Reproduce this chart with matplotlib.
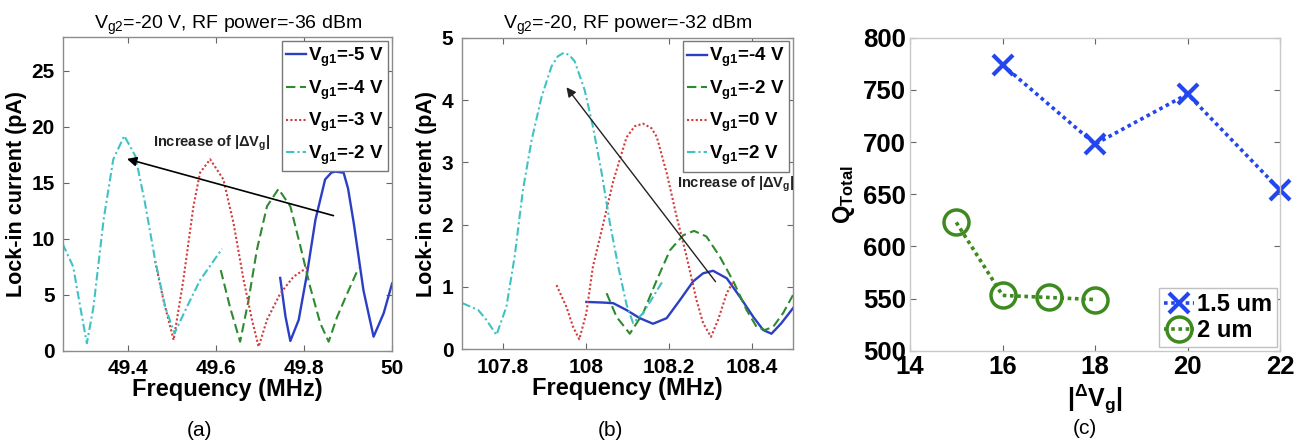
import numpy as np
import matplotlib
matplotlib.use("Agg")
import matplotlib.pyplot as plt

plt.rcParams["font.family"] = ["Liberation Sans", "DejaVu Sans"]
plt.rcParams["mathtext.default"] = "regular"

# ---------------- data: panel (a), Vg2=-20 V, RF -36 dBm ----------------
a_freq_m5 = [49.746, 49.758, 49.769, 49.788, 49.807, 49.826, 49.848, 49.862, 49.871,
             49.89, 49.9, 49.913, 49.935, 49.958, 49.981, 50.0]
a_cur_m5 = [6.5, 3.05, 0.87, 2.75, 6.9, 11.7, 15.3, 15.9, 16.0,
            15.9, 14.5, 11.4, 5.4, 1.25, 3.35, 6.0]

a_freq_m4 = [49.611, 49.632, 49.655, 49.674, 49.693, 49.716, 49.742, 49.769, 49.792,
             49.814, 49.837, 49.856, 49.875, 49.898, 49.924]
a_cur_m4 = [7.2, 3.9, 0.8, 4.5, 9.0, 12.9, 14.45, 12.9, 9.3,
            5.7, 2.45, 0.8, 3.0, 5.1, 7.4]

a_freq_m3 = [49.462, 49.481, 49.504, 49.526, 49.549, 49.564, 49.587, 49.617, 49.64,
             49.663, 49.682, 49.697, 49.716, 49.746, 49.776, 49.81]
a_cur_m3 = [8.0, 4.5, 0.96, 6.3, 12.9, 15.9, 17.1, 15.3, 11.4,
            6.3, 2.75, 0.36, 2.75, 5.1, 6.6, 7.5]

a_freq_m2 = [49.252, 49.276, 49.292, 49.307, 49.322, 49.345, 49.367, 49.392, 49.417,
             49.439, 49.462, 49.485, 49.506, 49.534, 49.564, 49.614]
a_cur_m2 = [9.55, 7.5, 3.9, 0.66, 3.9, 11.7, 17.1, 19.2, 17.4,
            13.2, 8.1, 3.9, 1.55, 3.9, 6.3, 9.1]

a_labels = [r"V$_{g1}$=-5 V", r"V$_{g1}$=-4 V", r"V$_{g1}$=-3 V", r"V$_{g1}$=-2 V"]

# ---------------- data: panel (b), Vg2=-20, RF -32 dBm ----------------
b_freq_m4 = [108.001, 108.042, 108.066, 108.098, 108.13, 108.162, 108.195, 108.227, 108.259,
             108.283, 108.307, 108.34, 108.372, 108.404, 108.428, 108.448, 108.472, 108.5]
b_cur_m4 = [0.76, 0.75, 0.74, 0.63, 0.5, 0.41, 0.5, 0.79, 1.09,
            1.22, 1.26, 1.14, 0.84, 0.52, 0.31, 0.25, 0.42, 0.66]

b_freq_m2 = [108.05, 108.074, 108.106, 108.138, 108.171, 108.203, 108.235, 108.261, 108.291,
             108.323, 108.356, 108.388, 108.412, 108.432, 108.452, 108.476, 108.5]
b_cur_m2 = [0.9, 0.52, 0.25, 0.58, 1.11, 1.59, 1.83, 1.9, 1.81,
            1.49, 1.09, 0.63, 0.36, 0.31, 0.36, 0.58, 0.87]

b_freq_0 = [107.929, 107.953, 107.969, 107.984, 108.001, 108.017, 108.042, 108.066, 108.098,
            108.118, 108.138, 108.158, 108.171, 108.195, 108.219, 108.243, 108.267, 108.283,
            108.302, 108.319, 108.34, 108.356]
b_cur_0 = [1.03, 0.68, 0.36, 0.16, 0.58, 1.33, 2.02, 2.7, 3.4,
           3.58, 3.62, 3.55, 3.41, 2.83, 2.13, 1.49, 0.79, 0.42,
           0.2, 0.47, 0.9, 1.09]

b_freq_p2 = [107.702, 107.74, 107.76, 107.784, 107.808, 107.828, 107.848, 107.869, 107.893,
             107.917, 107.932, 107.947, 107.96, 107.973, 107.997, 108.017, 108.038, 108.058,
             108.078, 108.098, 108.114, 108.138, 108.162, 108.185]
b_cur_p2 = [0.74, 0.63, 0.47, 0.23, 0.68, 1.49, 2.56, 3.36, 4.05,
            4.54, 4.7, 4.76, 4.72, 4.62, 4.16, 3.57, 2.83, 2.02,
            1.33, 0.72, 0.42, 0.58, 0.84, 1.09]

b_labels = [r"V$_{g1}$=-4 V", r"V$_{g1}$=-2 V", r"V$_{g1}$=0 V", r"V$_{g1}$=2 V"]

# ---------------- data: panel (c), Q_total vs |dVg| ----------------
dvg_15um = [16, 18, 20, 22]
q_15um = [774, 698, 746, 654]
dvg_2um = [15, 16, 17, 18]
q_2um = [623, 553, 551, 549]

# ---------------- styles ----------------
C_BLUE = "#2a3fc4"
C_GREEN = "#2e8a2e"
C_RED = "#d43a3a"
C_CYAN = "#3fc2c4"
LS = ["-", (0, (4.5, 2.2)), (0, (1, 1.1)), (0, (4, 1.5, 1, 1.5))]
COLORS = [C_BLUE, C_GREEN, C_RED, C_CYAN]
FRAME = "#8c8c8c"

fig = plt.figure(figsize=(13.03, 4.43), dpi=100)


def style_axes(ax, size=15, frame=FRAME):
    for sp in ax.spines.values():
        sp.set_color(frame)
        sp.set_linewidth(1.0)
    ax.tick_params(direction="in", length=4, width=0.8, color="#666666",
                   top=True, right=True, labelsize=size, pad=6)
    for lab in ax.get_xticklabels() + ax.get_yticklabels():
        lab.set_fontweight("bold")


def curve_panel(ax, series, labels, xlim, ylim, xticks, yticks, title):
    for (fx, cy), lab, col, ls in zip(series, labels, COLORS, LS):
        lw = 1.7 if ls == "-" else 1.5
        ax.plot(fx, cy, color=col, linestyle=ls, lw=lw, label=lab)
    ax.set_xlim(*xlim)
    ax.set_ylim(*ylim)
    ax.set_xticks(xticks)
    ax.set_yticks(yticks)
    ax.set_xlabel("Frequency (MHz)", fontsize=17, fontweight="bold", labelpad=0)
    ax.set_ylabel("Lock-in current (pA)", fontsize=15.5, fontweight="bold", labelpad=3)
    ax.set_title(title, fontsize=14, pad=6)
    style_axes(ax)
    leg = ax.legend(loc="upper right", handlelength=1.05, handletextpad=0.1,
                    borderpad=0.25, labelspacing=0.5, fancybox=False, framealpha=1,
                    borderaxespad=0.2, prop={"weight": "bold", "size": 13.5})
    leg.get_frame().set_edgecolor("#777777")
    leg.get_frame().set_linewidth(1.0)


# ---- (a)
ax1 = fig.add_axes([0.0484, 0.2084, 0.2525, 0.7074])
curve_panel(ax1,
            [(a_freq_m5, a_cur_m5), (a_freq_m4, a_cur_m4),
             (a_freq_m3, a_cur_m3), (a_freq_m2, a_cur_m2)],
            a_labels, (49.253, 50.0), (0, 28),
            [49.4, 49.6, 49.8, 50], [0, 5, 10, 15, 20, 25],
            r"V$_{g2}$=-20 V, RF power=-36 dBm")
ax1.set_xticklabels(["49.4", "49.6", "49.8", "50"], fontweight="bold")
ax1.annotate("", xy=(49.392, 17.2), xytext=(49.873, 12.0),
             arrowprops=dict(arrowstyle="-|>", color="black", lw=1.2, mutation_scale=14))
ax1.text(49.458, 18.5, "Increase of |ΔV$_g$|", fontsize=10.5, fontweight="bold",
         color="#222222", va="center", ha="left")

# ---- (b)
ax2 = fig.add_axes([0.3543, 0.2115, 0.2543, 0.7034])
curve_panel(ax2,
            [(b_freq_m4, b_cur_m4), (b_freq_m2, b_cur_m2),
             (b_freq_0, b_cur_0), (b_freq_p2, b_cur_p2)],
            b_labels, (107.7, 108.5), (0, 5),
            [107.8, 108.0, 108.2, 108.4], [0, 1, 2, 3, 4, 5],
            r"V$_{g2}$=-20, RF power=-32 dBm")
ax2.set_xticklabels(["107.8", "108", "108.2", "108.4"], fontweight="bold")
ax2.annotate("", xy=(107.949, 4.24), xytext=(108.317, 1.05),
             arrowprops=dict(arrowstyle="-|>", color="#222222", lw=1.0, mutation_scale=14))
ax2.text(108.219, 2.64, "Increase of |ΔV$_g$|", fontsize=10.5, fontweight="bold",
         color="#222222", va="center", ha="left")

# ---- (c)
ax3 = fig.add_axes([0.6984, 0.2084, 0.284, 0.7065])
ax3.plot(dvg_15um, q_15um, color="#2346ee", linestyle=(0, (1, 1)), lw=2.6,
         marker="x", markersize=14, markeredgewidth=3, clip_on=False, label="1.5 um")
ax3.plot(dvg_2um, q_2um, color="#3d8a1e", linestyle=(0, (1, 1)), lw=2.6,
         marker="o", markersize=18, markerfacecolor="none", markeredgewidth=2.5,
         clip_on=False, label="2 um")
ax3.set_xlim(14, 22)
ax3.set_ylim(500, 800)
ax3.set_xticks([14, 16, 18, 20, 22])
ax3.set_yticks([500, 550, 600, 650, 700, 750, 800])
ax3.set_xlabel(r"|$^{\Delta}$V$_g$|", fontsize=18, fontweight="bold", labelpad=3)
ax3.set_ylabel(r"Q$_{Total}$", fontsize=17, fontweight="bold", labelpad=4)
style_axes(ax3, size=18.5, frame="#c8c8c8")
ax3.tick_params(pad=3)
leg3 = ax3.legend(loc="lower right", handlelength=1.3, handletextpad=0.1,
                  borderpad=0.2, labelspacing=0.15, fancybox=False, framealpha=1,
                  borderaxespad=0.15, prop={"weight": "bold", "size": 17})
leg3.get_frame().set_edgecolor("#c0c0c0")

# ---- captions
fig.text(200 / 1303, 1 - 430 / 443, "(a)", fontsize=15, ha="center", va="center")
fig.text(610 / 1303, 1 - 430 / 443, "(b)", fontsize=15, ha="center", va="center")
fig.text(1085 / 1303, 1 - 428 / 443, "(c)", fontsize=15, ha="center", va="center")

fig.savefig("out.png", dpi=100)
